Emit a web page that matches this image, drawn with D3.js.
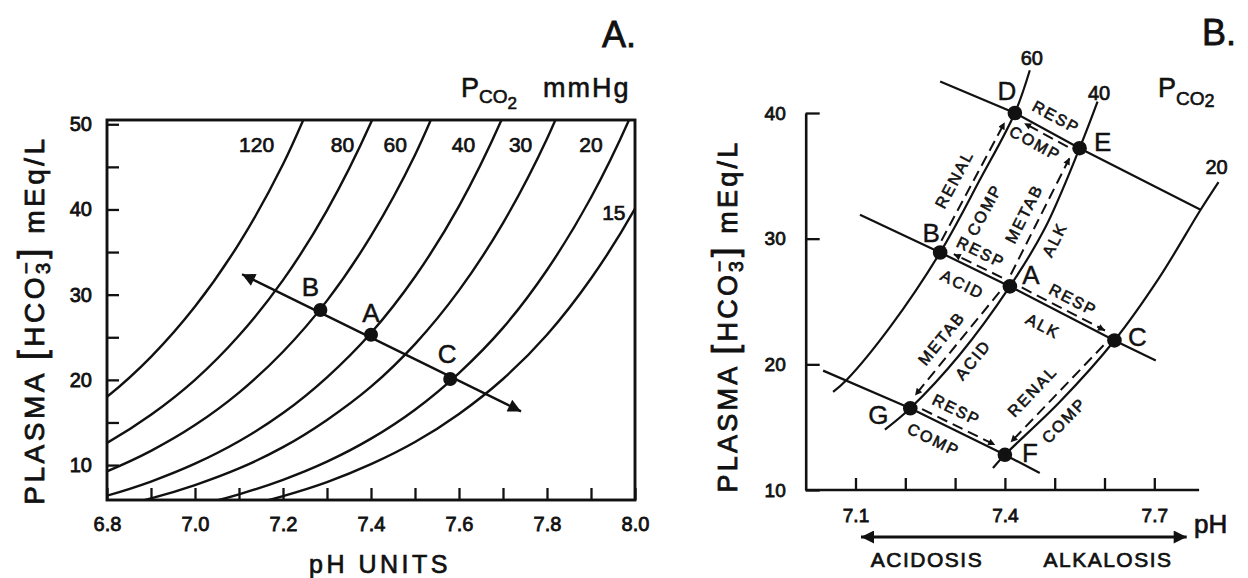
<!DOCTYPE html>
<html>
<head>
<meta charset="utf-8">
<script src="https://cdn.jsdelivr.net/npm/d3@7"></script>
<style>
  body { margin: 0; background: #fff; }
  svg { display: block; background: #fff; }
</style>
</head>
<body>
<svg id="chart" width="1248" height="578"></svg>
<script>
// ---------- Panel A: CO2 isopleths on the pH / bicarbonate plane ----------
const pco2LabelsA = ["120", "80", "60", "40", "30", "20", "15"];
const labelPHA    = [7.14, 7.335, 7.455, 7.61, 7.74, 7.90, 7.952];
const labelHCO3A  = [47.6, 47.6, 47.6, 47.6, 47.6, 47.6, 39.6];

// [pH, HCO3- mEq/L] read along each isopleth
const iso120 = [[6.7,14.3],[6.8,18.0],[6.9,22.7],[7.0,28.6],[7.1,36.0],[7.2,45.3],[7.3,57.1]];
const iso80  = [[6.7,10.0],[6.8,12.6],[6.9,15.9],[7.0,20.0],[7.1,25.2],[7.2,31.7],[7.3,39.9],[7.4,50.2],[7.5,63.2]];
const iso60  = [[6.7,7.36],[6.8,9.27],[6.9,11.67],[7.0,14.69],[7.1,18.5],[7.2,23.3],[7.3,29.3],[7.4,36.9],[7.5,46.4],[7.6,58.5]];
const iso40  = [[6.7,5.09],[6.8,6.41],[6.9,8.07],[7.0,10.16],[7.1,12.79],[7.2,16.1],[7.3,20.3],[7.4,25.5],[7.5,32.1],[7.6,40.4],[7.7,50.9],[7.8,64.1]];
const iso30  = [[6.8,4.83],[6.9,6.08],[7.0,7.65],[7.1,9.6],[7.2,12.1],[7.3,15.3],[7.4,19.2],[7.5,24.2],[7.6,30.5],[7.7,38.4],[7.8,48.3],[7.9,60.8]];
const iso20  = [[6.9,4.15],[7.0,5.22],[7.1,6.57],[7.2,8.27],[7.3,10.4],[7.4,13.1],[7.5,16.5],[7.6,20.8],[7.7,26.1],[7.8,32.9],[7.9,41.4],[8.0,52.1],[8.1,65.6]];
const iso15  = [[7.0,4.01],[7.1,5.05],[7.2,6.36],[7.3,8.0],[7.4,10.1],[7.5,12.7],[7.6,16.0],[7.7,20.1],[7.8,25.3],[7.9,31.9],[8.0,40.1],[8.1,50.5]];
const isoplethsA = [iso120, iso80, iso60, iso40, iso30, iso20, iso15];

const pointNamesA = ["B", "A", "C"];
const pointPHA    = [7.285, 7.40, 7.58];
const pointHCO3A  = [28.2, 25.3, 20.1];
const bufferLineA = [[7.107, 32.4], [7.741, 16.3]];

const phTicksA  = [6.8, 6.9, 7.0, 7.1, 7.2, 7.3, 7.4, 7.5, 7.6, 7.7, 7.8, 7.9, 8.0];
const phLabelsA = [6.8, 7.0, 7.2, 7.4, 7.6, 7.8, 8.0];
const hcoTicksA  = [10, 15, 20, 25, 30, 35, 40, 45, 50];
const hcoLabelsA = [10, 20, 30, 40, 50];

// ---------- Panel B: acid-base disturbances and compensation ----------
const stateNames = ["A", "B", "C", "D", "E", "F", "G"];
const statePH    = [7.41, 7.27, 7.62, 7.42, 7.55, 7.40, 7.21];
const stateHCO3  = [26.2, 28.9, 21.9, 40.0, 37.2, 12.8, 16.5];

const iso60B = [[7.055,17.8],[7.082,18.75],[7.17,23.0],[7.27,28.9],[7.35,34.7],[7.42,40.0],[7.45,43.4]];
const iso40B = [[7.159,14.8],[7.21,16.5],[7.31,20.8],[7.41,26.2],[7.48,30.8],[7.55,37.2],[7.586,40.9]];
const iso20B = [[7.376,11.75],[7.40,12.8],[7.51,17.0],[7.62,21.9],[7.71,26.9],[7.793,32.3],[7.829,34.5]];
const isoplethsB = [iso60B, iso40B, iso20B];
const pco2LabelsB = ["60", "40", "20"];
const labelPHB    = [7.454, 7.589, 7.825];
const labelHCO3B  = [44.4, 41.6, 35.7];

const bufferTopB = [[7.27,42.5],[7.42,40.0],[7.55,37.2],[7.793,32.3]];
const bufferMidB = [[7.109,31.9],[7.27,28.9],[7.41,26.2],[7.62,21.9],[7.703,20.3]];
const bufferLowB = [[7.035,19.5],[7.21,16.5],[7.40,12.8],[7.47,11.35]];

// transitions: from, to, side of the solid line the dashed path runs on
const transitions = [["A","B",1],["B","D",-1],["A","E",-1],["E","D",-1],
                     ["A","C",-1],["C","F",1],["A","G",1],["G","F",-1]];

// words set along the segments: text, from, to, position along, offset across (px)
const segmentWords = [
  ["RESP","D","E",0.52,-16], ["COMP","D","E",0.44,17],
  ["RENAL","B","D",0.45,-22], ["COMP","B","D",0.37,19],
  ["METAB","A","E",0.46,-20], ["ALK","A","E",0.40,19],
  ["RESP","B","A",0.47,-18], ["ACID","B","A",0.44,19],
  ["RESP","A","C",0.53,-17], ["ALK","A","C",0.405,20],
  ["METAB","G","A",0.47,-20], ["ACID","G","A",0.49,18],
  ["RENAL","F","C",0.41,-24], ["COMP","F","C",0.415,19],
  ["RESP","G","F",0.40,-19], ["COMP","G","F",0.33,18]
];

const phTicksB   = [7.1, 7.2, 7.3, 7.4, 7.5, 7.6, 7.7];
const phLabelsB  = [7.1, 7.4, 7.7];
const hcoTicksB  = [10, 20, 30, 40];
const phArrowB   = [7.111, 7.765];

// ---------- drawing ----------
const INK = "#111";
const FONT = "'Liberation Sans', Arial, Helvetica, sans-serif";
const svg = d3.select("#chart");
const defs = svg.append("defs");

function marker(id, w, h) {
  defs.append("marker").attr("id", id)
    .attr("viewBox", "0 0 10 10").attr("refX", 10).attr("refY", 5)
    .attr("markerUnits", "userSpaceOnUse")
    .attr("markerWidth", w).attr("markerHeight", h)
    .attr("orient", "auto-start-reverse")
    .append("path").attr("d", "M0,0L10,5L0,10Z").attr("fill", INK);
}
marker("headA", 19, 13);
marker("headB", 9, 7);
marker("headPH", 17, 13);

function txt(g, x, y, s, size, opts = {}) {
  return g.append("text").attr("x", x).attr("y", y).text(s)
    .attr("font-family", FONT).attr("font-size", size)
    .attr("fill", INK).attr("stroke", INK).attr("stroke-width", opts.sw ?? 0.7)
    .attr("text-anchor", opts.anchor ?? "middle")
    .attr("dominant-baseline", opts.baseline ?? "auto")
    .attr("letter-spacing", opts.ls ?? 0);
}

function styleAxis(g, size) {
  g.attr("font-family", FONT).attr("font-size", size);
  g.selectAll(".tick line").attr("stroke", INK).attr("stroke-width", 2.3);
  g.selectAll(".tick text").attr("fill", INK).attr("stroke", INK).attr("stroke-width", 0.8);
}

function hcoTitle(g, x, y, size, ls) {
  const t = g.append("text").attr("transform", `translate(${x},${y}) rotate(-90)`)
    .attr("text-anchor", "middle").attr("font-family", FONT).attr("font-size", size)
    .attr("letter-spacing", ls).attr("fill", INK).attr("stroke", INK).attr("stroke-width", 0.8);
  t.append("tspan").text("PLASMA ");
  t.append("tspan").attr("font-size", size * 1.3).attr("font-weight", 300).text("[");
  t.append("tspan").text("HCO");
  t.append("tspan").attr("font-size", size * 0.72).attr("dy", size * 0.22).text("3");
  t.append("tspan").attr("font-size", size * 0.72).attr("dx", -(size * 0.72 * 0.556 + ls))
    .attr("dy", -size * 0.62).text("−");
  t.append("tspan").attr("font-size", size * 1.3).attr("dy", size * 0.4).text("]");
  t.append("tspan").text(" mEq/L");
}

// ===== Panel A =====
const xA = d3.scaleLinear().domain([6.8, 8.0]).range([107, 635]);
const yA = d3.scaleLinear().domain([5.9, 50.5]).range([500, 120]);
const gA = svg.append("g");

defs.append("clipPath").attr("id", "frameA").append("rect")
  .attr("x", xA(6.8)).attr("y", yA(50.5))
  .attr("width", xA(8.0) - xA(6.8)).attr("height", yA(5.9) - yA(50.5));

const lineA = d3.line().x(d => xA(d[0])).y(d => yA(d[1])).curve(d3.curveCatmullRom);
gA.append("g").attr("clip-path", "url(#frameA)")
  .selectAll("path").data(isoplethsA).join("path")
  .attr("d", lineA).attr("fill", "none").attr("stroke", INK).attr("stroke-width", 2.4);

gA.append("rect").attr("x", xA(6.8)).attr("y", yA(50.5))
  .attr("width", xA(8.0) - xA(6.8)).attr("height", yA(5.9) - yA(50.5))
  .attr("fill", "none").attr("stroke", INK).attr("stroke-width", 2.9);

const axAx = gA.append("g").attr("transform", `translate(0,${yA(5.9)})`)
  .call(d3.axisBottom(xA).tickValues(phTicksA).tickSize(-12).tickSizeOuter(0).tickPadding(17)
    .tickFormat(d => phLabelsA.includes(d) ? d3.format(".1f")(d) : ""));
axAx.select(".domain").remove();
styleAxis(axAx, 20);

const axAy = gA.append("g").attr("transform", `translate(${xA(6.8)},0)`)
  .call(d3.axisLeft(yA).tickValues(hcoTicksA).tickSize(-12).tickSizeOuter(0).tickPadding(15)
    .tickFormat(d => hcoLabelsA.includes(d) ? String(d) : ""));
axAy.select(".domain").remove();
styleAxis(axAy, 20);

// buffer line with arrowheads at both ends
gA.append("path").datum(bufferLineA)
  .attr("d", d3.line().x(d => xA(d[0])).y(d => yA(d[1])))
  .attr("stroke", INK).attr("stroke-width", 2.4).attr("fill", "none")
  .attr("marker-start", "url(#headA)").attr("marker-end", "url(#headA)");

gA.selectAll("circle.pt").data(pointNamesA).join("circle").attr("class", "pt")
  .attr("cx", (d, i) => xA(pointPHA[i])).attr("cy", (d, i) => yA(pointHCO3A[i]))
  .attr("r", 7).attr("fill", INK);

const ptOffsetA = { B: [-10, -23], A: [0, -22], C: [-3, -25] };
pointNamesA.forEach((n, i) => {
  txt(gA, xA(pointPHA[i]) + ptOffsetA[n][0], yA(pointHCO3A[i]) + ptOffsetA[n][1], n, 26,
      { baseline: "central", sw: 0.5 });
});

pco2LabelsA.forEach((s, i) => {
  txt(gA, xA(labelPHA[i]), yA(labelHCO3A[i]), s, 21, { baseline: "central" });
});

// PCO2 mmHg caption
const capA = gA.append("text").attr("x", 461).attr("y", 97)
  .attr("font-family", FONT).attr("font-size", 27).attr("fill", INK)
  .attr("stroke", INK).attr("stroke-width", 0.6);
capA.append("tspan").text("P");
capA.append("tspan").attr("font-size", 19).attr("dy", 6).text("CO");
capA.append("tspan").attr("font-size", 17).attr("dy", 6).text("2");
capA.append("tspan").attr("x", 543).attr("dy", -12).attr("letter-spacing", 2).text("mmHg");

txt(gA, 636, 47, "A.", 36, { anchor: "end", sw: 0.8 });
txt(gA, 380, 573, "pH UNITS", 25, { ls: 3.5 });
hcoTitle(gA, 44, 320, 28, 3.5);

// ===== Panel B =====
const xB = d3.scaleLinear().domain([7.0, 7.8]).range([805.7, 1204.1]);
const yB = d3.scaleLinear().domain([10, 40]).range([490, 113]);
const gB = svg.append("g");

const axBy = gB.append("g").attr("transform", `translate(${xB(7.0)},0)`)
  .call(d3.axisLeft(yB).tickValues(hcoTicksB).tickSize(-14).tickSizeOuter(0).tickPadding(20));
axBy.select(".domain").attr("stroke", INK).attr("stroke-width", 2.6);
styleAxis(axBy, 19);

const axBx = gB.append("g").attr("transform", `translate(0,${yB(10)})`)
  .call(d3.axisBottom(xB).tickValues(phTicksB).tickSize(-12).tickSizeOuter(0).tickPadding(19)
    .tickFormat(d => phLabelsB.includes(d) ? d3.format(".1f")(d) : ""));
axBx.select(".domain").attr("stroke", INK).attr("stroke-width", 2.6)
  .attr("d", `M${xB(7.0)},0H${xB(7.79)}`);
styleAxis(axBx, 19);

const lineB = d3.line().x(d => xB(d[0])).y(d => yB(d[1])).curve(d3.curveCatmullRom);
gB.selectAll("path.iso").data(isoplethsB).join("path").attr("class", "iso")
  .attr("d", lineB).attr("fill", "none").attr("stroke", INK).attr("stroke-width", 2.2);

const straightB = d3.line().x(d => xB(d[0])).y(d => yB(d[1]));
gB.selectAll("path.buf").data([bufferTopB, bufferMidB, bufferLowB]).join("path").attr("class", "buf")
  .attr("d", straightB).attr("fill", "none").attr("stroke", INK).attr("stroke-width", 2.2);

const S = {};
stateNames.forEach((n, i) => { S[n] = [xB(statePH[i]), yB(stateHCO3[i])]; });

// dashed transition paths beside the solid segments
transitions.forEach(([a, b, side]) => {
  const P = S[a], Q = S[b];
  const dx = Q[0] - P[0], dy = Q[1] - P[1], L = Math.hypot(dx, dy);
  const ux = dx / L, uy = dy / L, nx = -uy * side * 4.5, ny = ux * side * 4.5;
  const x1 = P[0] + ux * 11 + nx, y1 = P[1] + uy * 11 + ny;
  const x2 = Q[0] - ux * 13 + nx, y2 = Q[1] - uy * 13 + ny;
  gB.append("line").attr("x1", x1).attr("y1", y1).attr("x2", x2).attr("y2", y2)
    .attr("stroke", INK).attr("stroke-width", 2).attr("stroke-dasharray", "11,6")
    .attr("marker-end", "url(#headB)");
});

gB.selectAll("circle.st").data(stateNames).join("circle").attr("class", "st")
  .attr("cx", d => S[d][0]).attr("cy", d => S[d][1]).attr("r", 7.3).attr("fill", INK);

const stOffset = { A: [21, -11], B: [-9, -19], C: [23, -3], D: [-8, -22], E: [23, -6], F: [25, -2], G: [-32, 7] };
stateNames.forEach(n => {
  txt(gB, S[n][0] + stOffset[n][0], S[n][1] + stOffset[n][1], n, 26, { baseline: "central", sw: 0.4 });
});

segmentWords.forEach(([word, a, b, t, off]) => {
  const P = S[a], Q = S[b];
  const dx = Q[0] - P[0], dy = Q[1] - P[1], L = Math.hypot(dx, dy);
  const nx = -dy / L, ny = dx / L;
  const x = P[0] + dx * t + nx * off, y = P[1] + dy * t + ny * off;
  const ang = Math.atan2(dy, dx) * 180 / Math.PI;
  gB.append("text").attr("transform", `translate(${x},${y}) rotate(${ang})`)
    .attr("text-anchor", "middle").attr("dominant-baseline", "central")
    .attr("font-family", FONT).attr("font-size", 16).attr("letter-spacing", 2)
    .attr("fill", INK).attr("stroke", INK).attr("stroke-width", 0.6).text(word);
});

pco2LabelsB.forEach((s, i) => {
  txt(gB, xB(labelPHB[i]), yB(labelHCO3B[i]), s, 20, { baseline: "central" });
});

const capB = gB.append("text").attr("x", 1158).attr("y", 97)
  .attr("font-family", FONT).attr("font-size", 27).attr("fill", INK)
  .attr("stroke", INK).attr("stroke-width", 0.6);
capB.append("tspan").text("P");
capB.append("tspan").attr("font-size", 19).attr("dy", 8).text("CO");
capB.append("tspan").attr("font-size", 18).attr("dy", 2).text("2");

txt(gB, 1236, 45, "B.", 36, { anchor: "end", sw: 0.8 });

// acidosis / alkalosis double arrow under the pH axis
gB.append("line")
  .attr("x1", xB(phArrowB[0])).attr("x2", xB(phArrowB[1]))
  .attr("y1", yB(10) + 47).attr("y2", yB(10) + 47)
  .attr("stroke", INK).attr("stroke-width", 3)
  .attr("marker-start", "url(#headPH)").attr("marker-end", "url(#headPH)");
txt(gB, 1194, 533, "pH", 26, { anchor: "start" });
txt(gB, 927, 567, "ACIDOSIS", 21, { ls: 1.5 });
txt(gB, 1108, 567, "ALKALOSIS", 21, { ls: 1.5 });

hcoTitle(gB, 737, 316, 27, 3.2);
</script>
</body>
</html>
